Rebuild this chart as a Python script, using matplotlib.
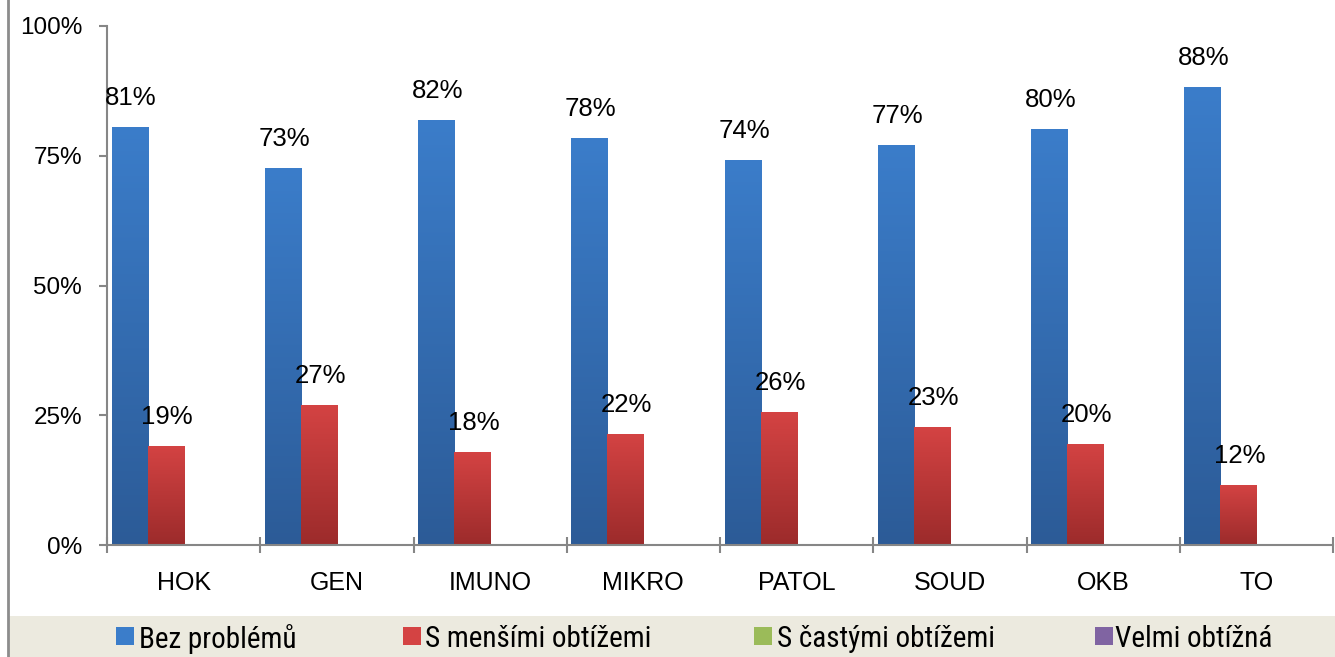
import matplotlib
matplotlib.use("Agg")
import matplotlib.pyplot as plt
import numpy as np
from matplotlib.patches import Rectangle
from matplotlib.lines import Line2D
from matplotlib.colors import LinearSegmentedColormap
from matplotlib import font_manager as fm

categories = ["HOK", "GEN", "IMUNO", "MIKRO", "PATOL", "SOUD", "OKB", "TO"]
series_names = ["Bez problémů", "S menšími obtížemi", "S častými obtížemi", "Velmi obtížná"]
bez_problemu = [80.6, 72.6, 81.9, 78.4, 74.2, 77.1, 80.2, 88.2]
mensi_obtize = [19.1, 27.0, 17.9, 21.4, 25.6, 22.7, 19.5, 11.6]
caste_obtize = [0, 0, 0, 0, 0, 0, 0, 0]
velmi_obtizna = [0, 0, 0, 0, 0, 0, 0, 0]
labels_bez = ["81%", "73%", "82%", "78%", "74%", "77%", "80%", "88%"]
labels_mensi = ["19%", "27%", "18%", "22%", "26%", "23%", "20%", "12%"]
yticks = [0, 25, 50, 75, 100]
ytick_labels = ["0%", "25%", "50%", "75%", "100%"]

FONT = ["Liberation Sans", "DejaVu Sans"]
plt.rcParams["font.family"] = FONT

# find a condensed/narrow sans font for the legend if one is installed
narrow_path = None
pref = ["narrow", "condensed"]
cands = []
for f in fm.fontManager.ttflist:
    nm = (f.name + " " + str(f.fname)).lower()
    st = str(f.stretch).lower()
    if f.weight not in (400, "normal", "regular") or f.style != "normal":
        continue
    if "mono" in nm or "serif" in f.name.lower() or "cjk" in nm:
        continue
    if ("narrow" in nm or "condensed" in nm or "condensed" in st) and "extra" not in nm and "semi" not in nm:
        score = 0 if "liberation" in nm else (1 if "roboto" in nm else 2)
        cands.append((score, f.fname))
if cands:
    cands.sort()
    narrow_path = cands[0][1]
if narrow_path:
    leg_prop = fm.FontProperties(fname=narrow_path, size=21)
else:
    leg_prop = fm.FontProperties(family=FONT, size=18.5)

W, H = 1335, 657
fig = plt.figure(figsize=(W / 100, H / 100), dpi=100)
fig.patch.set_facecolor("white")

# legend band + left frame line
fig.patches.append(Rectangle((8 / W, 0), 1 - 8 / W, 41 / H, transform=fig.transFigure,
                             facecolor="#ECEADF", edgecolor="none", zorder=0))
fig.lines.append(Line2D([8 / W, 8 / W], [0, 1], transform=fig.transFigure,
                        color="#8C8C8C", lw=2))

ax = fig.add_axes([107 / W, (H - 545) / H, (1333 - 107) / W, (545 - 26) / H])

x = np.arange(len(categories))
width = 0.235
offsets = [-1.5 * width, -0.5 * width, 0.5 * width, 1.5 * width]
all_series = [bez_problemu, mensi_obtize, caste_obtize, velmi_obtizna]
grads = [("#3B7DCA", "#2C5B97"), ("#D44343", "#9C2B2B"),
         ("#9BBB59", "#71893F"), ("#8064A2", "#5C4876")]

for vals, off, (ctop, cbot), name in zip(all_series, offsets, grads, series_names):
    bars = ax.bar(x + off, vals, width, color=ctop, edgecolor="none", zorder=2, label=name)
    cmap = LinearSegmentedColormap.from_list("g", [cbot, ctop])
    for b in bars:
        h = b.get_height()
        if h <= 0:
            continue
        ax.add_patch(Rectangle((b.get_x() + 0.006, 0), b.get_width(), h - 0.3,
                               facecolor="#000000", alpha=0.10, edgecolor="none", zorder=1.5))
        grad = np.linspace(0, 1, 256).reshape(-1, 1)
        im = ax.imshow(grad, cmap=cmap, origin="lower", aspect="auto",
                       extent=(b.get_x(), b.get_x() + b.get_width(), 0, h), zorder=2.1)
        im.set_clip_path(b)
ax.set_xlim(-0.5, len(categories) - 0.5)
ax.set_ylim(0, 100)

for xs, vals, labs in [(x + offsets[0], bez_problemu, labels_bez),
                       (x + offsets[1], mensi_obtize, labels_mensi)]:
    for xi, v, l in zip(xs, vals, labs):
        ax.annotate(l, (xi, v), xytext=(1, 21), textcoords="offset points",
                    ha="center", va="center", fontsize=18.5, color="black", zorder=5)

gray = "#868686"
for s in ["top", "right"]:
    ax.spines[s].set_visible(False)
for s in ["left", "bottom"]:
    ax.spines[s].set_color(gray)
    ax.spines[s].set_linewidth(1.5)
    ax.spines[s].set_zorder(3)

ax.set_yticks(yticks)
ax.set_yticklabels(ytick_labels, fontsize=17.5)
ax.tick_params(axis="y", direction="out", length=6, width=1.5, color=gray, pad=12)

ax.set_xticks(x)
ax.set_xticklabels(categories, fontsize=18)
ax.tick_params(axis="x", which="major", length=0, pad=19)
ax.set_xticks(np.arange(len(categories) + 1) - 0.5, minor=True)
ax.tick_params(axis="x", which="minor", direction="inout", length=12, width=1.5, color=gray)

# legend entries (manually placed like the reference)
leg_sq_x = [116, 403, 754, 1095]
leg_tx_x = [139, 425, 777, 1115]
sq = 18
yc = 636
for (ctop, cbot), name, sx, tx in zip(grads, series_names, leg_sq_x, leg_tx_x):
    fig.patches.append(Rectangle((sx / W, (H - yc - sq / 2) / H), sq / W, sq / H,
                                 transform=fig.transFigure, facecolor=ctop, edgecolor="none"))
    fig.text(tx / W, (H - yc) / H, name, fontproperties=leg_prop, ha="left", va="center_baseline")

fig.savefig("out.png", dpi=100, facecolor="white")
